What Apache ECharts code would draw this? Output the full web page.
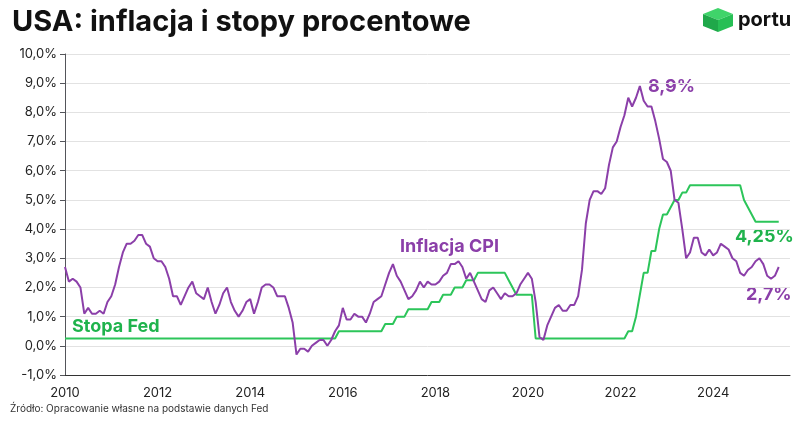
<!DOCTYPE html>
<html><head><meta charset="utf-8">
<script src="https://cdn.jsdelivr.net/npm/echarts@6/dist/echarts.min.js"></script>
<style>html,body{margin:0;background:#fff}#c{width:800px;height:427px}</style>
</head><body><div id="c"></div>
<script>
// CPI r/r, miesięcznie od 2010-01
var cpi2010 = [2.7,2.2,2.3,2.2,2.0,1.1,1.3,1.1,1.1,1.2,1.1,1.5];
var cpi2011 = [1.7,2.1,2.7,3.2,3.5,3.5,3.6,3.8,3.8,3.5,3.4,3.0];
var cpi2012 = [2.9,2.9,2.7,2.3,1.7,1.7,1.4,1.7,2.0,2.2,1.8,1.7];
var cpi2013 = [1.6,2.0,1.5,1.1,1.4,1.8,2.0,1.5,1.2,1.0,1.2,1.5];
var cpi2014 = [1.6,1.1,1.5,2.0,2.1,2.1,2.0,1.7,1.7,1.7,1.3,0.8];
var cpi2015 = [-0.3,-0.1,-0.1,-0.2,0.0,0.1,0.2,0.2,0.0,0.2,0.5,0.7];
var cpi2016 = [1.3,0.9,0.9,1.1,1.0,1.0,0.8,1.1,1.5,1.6,1.7,2.1];
var cpi2017 = [2.5,2.8,2.4,2.2,1.9,1.6,1.7,1.9,2.2,2.0,2.2,2.1];
var cpi2018 = [2.1,2.2,2.4,2.5,2.8,2.8,2.9,2.7,2.3,2.5,2.2,1.9];
var cpi2019 = [1.6,1.5,1.9,2.0,1.8,1.6,1.8,1.7,1.7,1.8,2.1,2.3];
var cpi2020 = [2.5,2.3,1.5,0.3,0.2,0.7,1.0,1.3,1.4,1.2,1.2,1.4];
var cpi2021 = [1.4,1.7,2.6,4.2,5.0,5.3,5.3,5.2,5.4,6.2,6.8,7.0];
var cpi2022 = [7.5,7.9,8.5,8.2,8.5,8.9,8.4,8.2,8.2,7.7,7.1,6.4];
var cpi2023 = [6.3,6.0,5.0,4.9,4.0,3.0,3.2,3.7,3.7,3.2,3.1,3.3];
var cpi2024 = [3.1,3.2,3.5,3.4,3.3,3.0,2.9,2.5,2.4,2.6,2.7,2.9];
var cpi2025 = [3.0,2.8,2.4,2.3,2.4,2.7];

// Stopa Fed, miesięcznie od 2010-01
var fed2010 = [0.25,0.25,0.25,0.25,0.25,0.25,0.25,0.25,0.25,0.25,0.25,0.25];
var fed2011 = [0.25,0.25,0.25,0.25,0.25,0.25,0.25,0.25,0.25,0.25,0.25,0.25];
var fed2012 = [0.25,0.25,0.25,0.25,0.25,0.25,0.25,0.25,0.25,0.25,0.25,0.25];
var fed2013 = [0.25,0.25,0.25,0.25,0.25,0.25,0.25,0.25,0.25,0.25,0.25,0.25];
var fed2014 = [0.25,0.25,0.25,0.25,0.25,0.25,0.25,0.25,0.25,0.25,0.25,0.25];
var fed2015 = [0.25,0.25,0.25,0.25,0.25,0.25,0.25,0.25,0.25,0.25,0.25,0.5];
var fed2016 = [0.5,0.5,0.5,0.5,0.5,0.5,0.5,0.5,0.5,0.5,0.5,0.75];
var fed2017 = [0.75,0.75,1.0,1.0,1.0,1.25,1.25,1.25,1.25,1.25,1.25,1.5];
var fed2018 = [1.5,1.5,1.75,1.75,1.75,2.0,2.0,2.0,2.25,2.25,2.25,2.5];
var fed2019 = [2.5,2.5,2.5,2.5,2.5,2.5,2.5,2.25,2.0,1.75,1.75,1.75];
var fed2020 = [1.75,1.75,0.25,0.25,0.25,0.25,0.25,0.25,0.25,0.25,0.25,0.25];
var fed2021 = [0.25,0.25,0.25,0.25,0.25,0.25,0.25,0.25,0.25,0.25,0.25,0.25];
var fed2022 = [0.25,0.25,0.5,0.5,1.0,1.75,2.5,2.5,3.25,3.25,4.0,4.5];
var fed2023 = [4.5,4.75,5.0,5.0,5.25,5.25,5.5,5.5,5.5,5.5,5.5,5.5];
var fed2024 = [5.5,5.5,5.5,5.5,5.5,5.5,5.5,5.5,5.0,4.75,4.5,4.25];
var fed2025 = [4.25,4.25,4.25,4.25,4.25,4.25];

var xTicks = [2010,2012,2014,2016,2018,2020,2022,2024];

function toPoints(years) {
    var out = [];
    years.forEach(function (arr, yi) {
        arr.forEach(function (v, m) { out.push([2010 + yi + m / 12, v]); });
    });
    return out;
}
var cpi = toPoints([cpi2010,cpi2011,cpi2012,cpi2013,cpi2014,cpi2015,cpi2016,cpi2017,cpi2018,cpi2019,cpi2020,cpi2021,cpi2022,cpi2023,cpi2024,cpi2025]);
var fed = toPoints([fed2010,fed2011,fed2012,fed2013,fed2014,fed2015,fed2016,fed2017,fed2018,fed2019,fed2020,fed2021,fed2022,fed2023,fed2024,fed2025]);

var purple = '#8b3fa9', green = '#2cc55a';
var font = 'Inter, "Noto Sans", sans-serif';
var myChart = echarts.init(document.getElementById('c'));
myChart.setOption({
    animation: false,
    grid: { left: 65, right: 10, top: 54, bottom: 52 },
    xAxis: {
        type: 'value', min: 2010, max: 2025.66, interval: 2,
        axisLine: { onZero: false, lineStyle: { color: '#333' } }, axisTick: { show: false },
        splitLine: { show: false },
        axisLabel: { color: '#222', fontSize: 13, fontFamily: font, margin: 12,
            formatter: function (v) { return xTicks.indexOf(v) >= 0 ? String(v) : ''; } }
    },
    yAxis: {
        type: 'value', min: -1, max: 10, interval: 1,
        axisLabel: { color: '#222', fontSize: 13, fontFamily: font,
            formatter: function (v) { return v.toFixed(1).replace('.', ',') + '%'; } },
        splitLine: { lineStyle: { color: '#e2e2e2' } }
    },
    series: [
        { type: 'line', data: fed, showSymbol: false, lineStyle: { color: green, width: 2 } },
        { type: 'line', data: cpi, showSymbol: false, lineStyle: { color: purple, width: 2 } }
    ],
    graphic: [
        { type: 'text', left: 12, top: 8, style: { text: 'USA: inflacja i stopy procentowe', fontSize: 29, fontWeight: 'bold', fill: '#111', fontFamily: font } },
        { type: 'polygon', shape: { points: [[703,14],[718,8],[733,14],[718,20]] }, style: { fill: '#3fd46a' } },
        { type: 'polygon', shape: { points: [[703,14],[718,20],[718,32],[703,26]] }, style: { fill: '#1fa84a' } },
        { type: 'polygon', shape: { points: [[718,20],[733,14],[733,26],[718,32]] }, style: { fill: '#27bf55' } },
        { type: 'text', left: 738, top: 10, style: { text: 'portu', fontSize: 20, fontWeight: 'bold', fill: '#111', fontFamily: font } },
        { type: 'text', left: 648, top: 78, style: { text: '8,9%', fontSize: 18, fontWeight: 'bold', fill: purple, fontFamily: font } },
        { type: 'text', left: 735, top: 228, style: { text: '4,25%', fontSize: 18, fontWeight: 'bold', fill: '#1fb34c', fontFamily: font } },
        { type: 'text', left: 746, top: 286, style: { text: '2,7%', fontSize: 18, fontWeight: 'bold', fill: purple, fontFamily: font } },
        { type: 'text', left: 400, top: 238, style: { text: 'Inflacja CPI', fontSize: 18, fontWeight: 'bold', fill: purple, fontFamily: font } },
        { type: 'text', left: 72, top: 318, style: { text: 'Stopa Fed', fontSize: 18, fontWeight: 'bold', fill: '#1fb34c', fontFamily: font } },
        { type: 'text', left: 10, top: 404, style: { text: 'Źródło: Opracowanie własne na podstawie danych Fed', fontSize: 10, fill: '#333', fontFamily: font } }
    ]
});
</script></body></html>
